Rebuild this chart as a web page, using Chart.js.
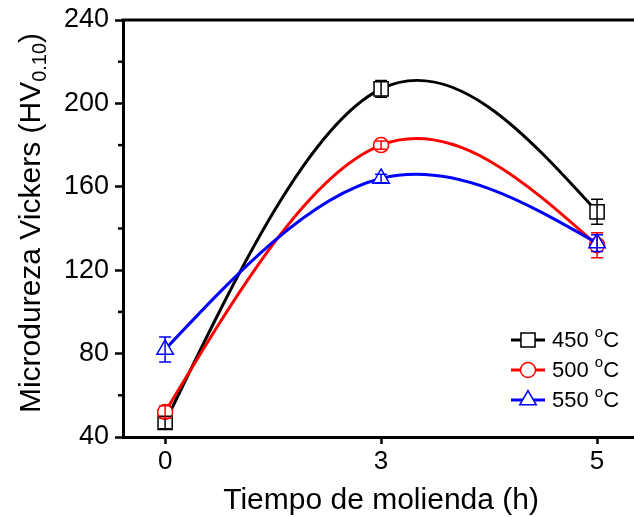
<!DOCTYPE html>
<html>
<head>
<meta charset="utf-8">
<script src="https://cdn.jsdelivr.net/npm/chart.js@4/dist/chart.umd.min.js"></script>
<style>
  html, body { margin: 0; padding: 0; background: #fff; overflow: hidden; }
  #wrap { width: 634px; height: 517px; }
</style>
</head>
<body>
<div id="wrap"><canvas id="chart" width="634" height="517"></canvas></div>
<script>
// datos
const categories = ["0", "3", "5"];          // tiempo de molienda (h)
const temps = ["450", "500", "550"];          // temperatura (oC)
const hv450 = [47, 207, 148];
const err450 = [3, 4, 6];
const hv500 = [52, 180, 132];
const err500 = [3, 2, 6];
const hv550 = [82, 164, 133];
const err550 = [6, 2, 4];
const yMinor = [60, 100, 140, 180, 220];

const FONT = '"Liberation Sans", Arial, sans-serif';

function pts(vals) {
  return vals.map((v, i) => ({ x: i, y: v }));
}

function serie(label, vals, errs, color, shape, radius, order) {
  return {
    label: label,
    data: pts(vals),
    errors: errs,
    borderColor: color,
    borderWidth: 3,
    tension: 0.4,
    pointStyle: shape,
    pointRadius: radius,
    pointHoverRadius: radius,
    pointBorderWidth: 1.5,
    pointBorderColor: color,
    pointBackgroundColor: "#fff",
    order: order
  };
}

// pendientes de un spline cubico natural (paso 1 en indice)
function naturalSlopes(y) {
  const n = y.length;
  const M = new Array(n).fill(0);
  if (n > 2) {
    const a = [], r = [];
    for (let i = 1; i < n - 1; i++) {
      a.push(4);
      r.push(6 * (y[i + 1] - 2 * y[i] + y[i - 1]));
    }
    for (let i = 1; i < a.length; i++) {
      const m = 1 / a[i - 1];
      a[i] -= m;
      r[i] -= m * r[i - 1];
    }
    for (let i = a.length - 1; i >= 0; i--) {
      const next = i + 1 < a.length ? M[i + 2] : 0;
      M[i + 1] = (r[i] - next) / a[i];
    }
  }
  const d = [];
  for (let i = 0; i < n - 1; i++) d.push((y[i + 1] - y[i]) - (2 * M[i] + M[i + 1]) / 6);
  d.push((y[n - 1] - y[n - 2]) + (M[n - 2] + 2 * M[n - 1]) / 6);
  return d;
}

// curva tipo spline (como en Origin): puntos de control desde los datos
const spline = {
  id: "spline",
  beforeDatasetsDraw(chart) {
    const xs = chart.scales.x, ys = chart.scales.y;
    chart.data.datasets.forEach((ds, i) => {
      const meta = chart.getDatasetMeta(i);
      const vals = ds.data.map(p => p.y);
      const d = naturalSlopes(vals);
      meta.data.forEach((el, k) => {
        const p = ds.data[k];
        el.cp1x = xs.getPixelForValue(p.x - 1 / 3);
        el.cp1y = ys.getPixelForValue(p.y - d[k] / 3);
        el.cp2x = xs.getPixelForValue(p.x + 1 / 3);
        el.cp2y = ys.getPixelForValue(p.y + d[k] / 3);
      });
      meta.dataset._pointsUpdated = true;
      meta.dataset._path = undefined;
    });
  }
};

function drawShape(ctx, style, r, x, y) {
  if (style === "rect") {
    const s = Math.SQRT1_2 * r;
    ctx.rect(x - s, y - s, 2 * s, 2 * s);
  } else if (style === "triangle") {
    ctx.moveTo(x, y - r);
    ctx.lineTo(x + r * Math.cos(Math.PI / 6), y + r / 2);
    ctx.lineTo(x - r * Math.cos(Math.PI / 6), y + r / 2);
    ctx.closePath();
  } else {
    ctx.arc(x, y, r, 0, Math.PI * 2);
  }
}

// barras de error, minor ticks, borde superior, titulos y leyenda
const extras = {
  id: "extras",
  afterDatasetsDraw(chart) {
    const ctx = chart.ctx;
    const y = chart.scales.y;
    const x = chart.scales.x;
    chart.data.datasets.forEach(ds => {
      ctx.save();
      ctx.strokeStyle = ds.borderColor;
      ctx.lineWidth = 1.5;
      ds.data.forEach((p, i) => {
        const px = x.getPixelForValue(p.x);
        const top = y.getPixelForValue(p.y + ds.errors[i]);
        const bot = y.getPixelForValue(p.y - ds.errors[i]);
        ctx.beginPath();
        ctx.moveTo(px, top); ctx.lineTo(px, bot);
        ctx.moveTo(px - 6, top); ctx.lineTo(px + 6, top);
        ctx.moveTo(px - 6, bot); ctx.lineTo(px + 6, bot);
        ctx.stroke();
      });
      ctx.restore();
    });
  },
  afterDraw(chart) {
    const ctx = chart.ctx;
    const area = chart.chartArea;
    const y = chart.scales.y;
    const x = chart.scales.x;
    ctx.save();
    ctx.strokeStyle = "#000";

    // borde superior
    ctx.lineWidth = 3;
    ctx.beginPath();
    ctx.moveTo(area.left - 1.5, area.top);
    ctx.lineTo(chart.width, area.top);
    ctx.stroke();

    // minor ticks
    ctx.lineWidth = 2.5;
    yMinor.forEach(v => {
      const py = y.getPixelForValue(v);
      ctx.beginPath();
      ctx.moveTo(area.left - 5, py);
      ctx.lineTo(area.left, py);
      ctx.stroke();
    });

    ctx.fillStyle = "#000";

    // titulo eje x
    ctx.font = "30px " + FONT;
    ctx.textAlign = "center";
    ctx.textBaseline = "alphabetic";
    ctx.fillText("Tiempo de molienda (h)", x.getPixelForValue(1), 509);

    // titulo eje y con subindice
    const main = "Microdureza Vickers (HV";
    const sub = "0.10";
    const close = ")";
    ctx.font = "30px " + FONT;
    const w1 = ctx.measureText(main).width;
    const w3 = ctx.measureText(close).width;
    ctx.font = "20px " + FONT;
    const w2 = ctx.measureText(sub).width;
    const total = w1 + w2 + w3;
    ctx.translate(40, 223);
    ctx.rotate(-Math.PI / 2);
    ctx.textAlign = "left";
    let cx = -total / 2;
    ctx.font = "30px " + FONT;
    ctx.fillText(main, cx, 0);
    cx += w1;
    ctx.font = "20px " + FONT;
    ctx.fillText(sub, cx, 6);
    cx += w2;
    ctx.font = "30px " + FONT;
    ctx.fillText(close, cx, 0);
    ctx.setTransform(1, 0, 0, 1, 0, 0);

    // leyenda
    const rows = [340, 370, 400];
    chart.data.datasets.forEach((ds, i) => {
      const ry = rows[i];
      ctx.strokeStyle = ds.borderColor;
      ctx.lineWidth = 3;
      ctx.beginPath();
      ctx.moveTo(511, ry);
      ctx.lineTo(545, ry);
      ctx.stroke();
      ctx.fillStyle = "#fff";
      ctx.lineWidth = ds.pointBorderWidth;
      ctx.beginPath();
      drawShape(ctx, ds.pointStyle, ds.pointRadius, 528, ry);
      ctx.fill();
      ctx.stroke();

      ctx.fillStyle = "#000";
      ctx.textAlign = "left";
      ctx.textBaseline = "middle";
      ctx.font = "22px " + FONT;
      let tx = 552;
      const t = temps[i] + " ";
      ctx.fillText(t, tx, ry + 1);
      tx += ctx.measureText(t).width;
      ctx.font = "15px " + FONT;
      ctx.fillText("o", tx, ry - 7);
      tx += ctx.measureText("o").width;
      ctx.font = "22px " + FONT;
      ctx.fillText("C", tx, ry + 1);
    });
    ctx.restore();
  }
};

const chart = new Chart(document.getElementById("chart"), {
  type: "line",
  data: {
    datasets: [
      serie(temps[0] + " oC", hv450, err450, "#000000", "rect", 10, 2),
      serie(temps[1] + " oC", hv500, err500, "#ff0000", "circle", 7.5, 1),
      serie(temps[2] + " oC", hv550, err550, "#0000ff", "triangle", 9.5, 0)
    ]
  },
  options: {
    responsive: false,
    animation: false,
    layout: { autoPadding: false, padding: { top: 20, left: 0, right: 0, bottom: 0 } },
    plugins: {
      legend: { display: false },
      tooltip: { enabled: false }
    },
    scales: {
      x: {
        type: "linear",
        min: -0.195,
        max: 2.171,
        afterBuildTicks: s => { s.ticks = categories.map((c, i) => ({ value: i })); },
        afterFit: s => { s.height = 80; s.paddingRight = 0; s.paddingLeft = 0; },
        ticks: {
          callback: v => categories[v],
          color: "#000",
          font: { family: FONT, size: 26 },
          padding: 2,
          maxRotation: 0
        },
        grid: { drawOnChartArea: false, tickLength: 7, tickWidth: 2.5, color: "#000" },
        border: { color: "#000", width: 3 }
      },
      y: {
        min: 40,
        max: 240,
        ticks: {
          stepSize: 40,
          color: "#000",
          font: { family: FONT, size: 27 },
          padding: 6
        },
        afterFit: s => { s.width = 123; s.paddingTop = 0; s.paddingBottom = 0; },
        grid: { drawOnChartArea: false, tickLength: 8, tickWidth: 2.5, color: "#000" },
        border: { color: "#000", width: 3 }
      }
    }
  },
  plugins: [spline, extras]
});
</script>
</body>
</html>
